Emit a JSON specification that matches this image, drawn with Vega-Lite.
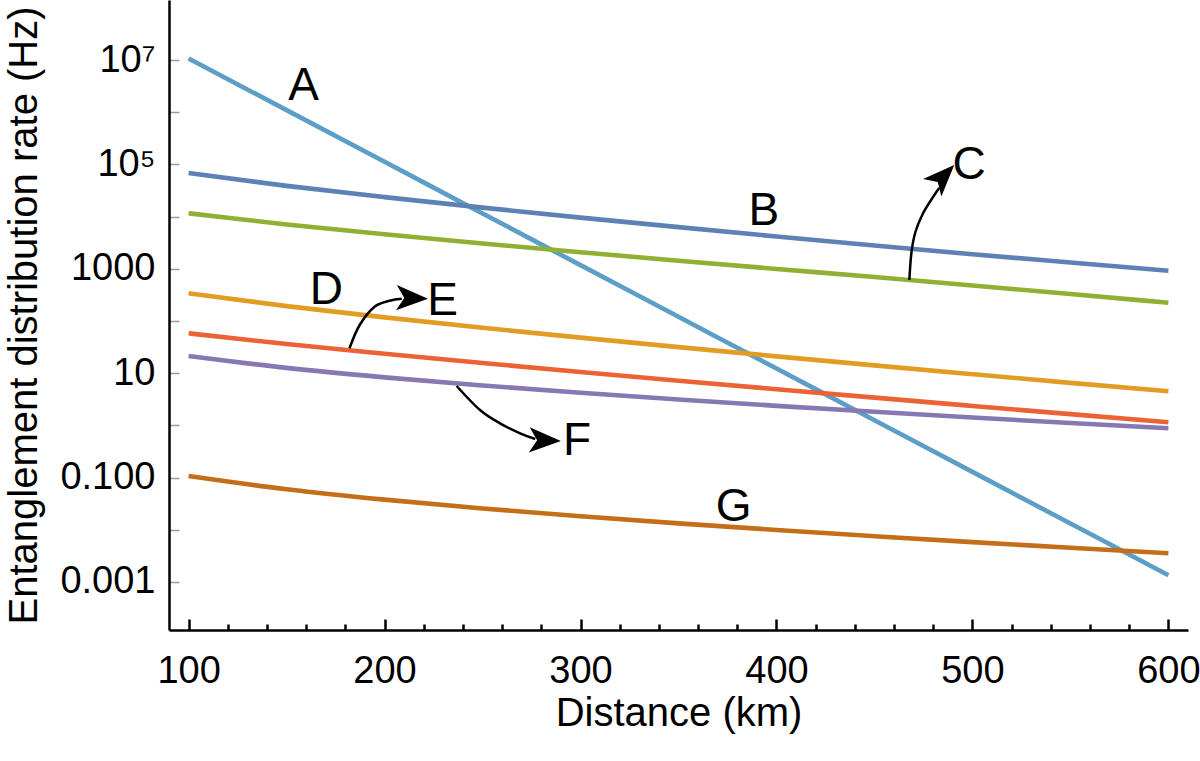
{
  "$schema": "https://vega.github.io/schema/vega-lite/v6.json",
  "width": 1019,
  "height": 630,
  "autosize": {"type": "none"},
  "padding": {"left": 169, "top": 0, "right": 12, "bottom": 131},
  "background": "white",
  "config": {"view": {"stroke": null}, "font": "Liberation Sans"},
  "datasets": {
    "curves": [
      {"series": "A", "d": 100, "rate": 10715000}, {"series": "A", "d": 150, "rate": 1096500}, {"series": "A", "d": 200, "rate": 112200}, {"series": "A", "d": 250, "rate": 11482}, {"series": "A", "d": 300, "rate": 1175}, {"series": "A", "d": 350, "rate": 120.2}, {"series": "A", "d": 400, "rate": 12.3}, {"series": "A", "d": 450, "rate": 1.259}, {"series": "A", "d": 500, "rate": 0.1288}, {"series": "A", "d": 550, "rate": 0.01318}, {"series": "A", "d": 600, "rate": 0.001349},
      {"series": "B", "d": 100, "rate": 68390}, {"series": "B", "d": 150, "rate": 38820}, {"series": "B", "d": 200, "rate": 23600}, {"series": "B", "d": 250, "rate": 14860}, {"series": "B", "d": 300, "rate": 9572}, {"series": "B", "d": 350, "rate": 6281}, {"series": "B", "d": 400, "rate": 4159}, {"series": "B", "d": 450, "rate": 2786}, {"series": "B", "d": 500, "rate": 1901}, {"series": "B", "d": 550, "rate": 1321}, {"series": "B", "d": 600, "rate": 920},
      {"series": "C", "d": 100, "rate": 11560}, {"series": "C", "d": 150, "rate": 7079}, {"series": "C", "d": 200, "rate": 4581}, {"series": "C", "d": 250, "rate": 3055}, {"series": "C", "d": 300, "rate": 2075}, {"series": "C", "d": 350, "rate": 1429}, {"series": "C", "d": 400, "rate": 993}, {"series": "C", "d": 450, "rate": 697}, {"series": "C", "d": 500, "rate": 479}, {"series": "C", "d": 550, "rate": 328}, {"series": "C", "d": 600, "rate": 224},
      {"series": "D", "d": 100, "rate": 339.6}, {"series": "D", "d": 150, "rate": 192.8}, {"series": "D", "d": 200, "rate": 117.2}, {"series": "D", "d": 250, "rate": 74.1}, {"series": "D", "d": 300, "rate": 47.97}, {"series": "D", "d": 350, "rate": 31.55}, {"series": "D", "d": 400, "rate": 21.04}, {"series": "D", "d": 450, "rate": 14.13}, {"series": "D", "d": 500, "rate": 9.57}, {"series": "D", "d": 550, "rate": 6.52}, {"series": "D", "d": 600, "rate": 4.51},
      {"series": "E", "d": 100, "rate": 58.1}, {"series": "E", "d": 150, "rate": 36.2}, {"series": "E", "d": 200, "rate": 23.6}, {"series": "E", "d": 250, "rate": 15.65}, {"series": "E", "d": 300, "rate": 10.54}, {"series": "E", "d": 350, "rate": 7.19}, {"series": "E", "d": 400, "rate": 4.93}, {"series": "E", "d": 450, "rate": 3.4}, {"series": "E", "d": 500, "rate": 2.36}, {"series": "E", "d": 550, "rate": 1.643}, {"series": "E", "d": 600, "rate": 1.146},
      {"series": "F", "d": 100, "rate": 21.38}, {"series": "F", "d": 150, "rate": 12.65}, {"series": "F", "d": 200, "rate": 8.33}, {"series": "F", "d": 250, "rate": 5.81}, {"series": "F", "d": 300, "rate": 4.21}, {"series": "F", "d": 350, "rate": 3.13}, {"series": "F", "d": 400, "rate": 2.37}, {"series": "F", "d": 450, "rate": 1.82}, {"series": "F", "d": 500, "rate": 1.416}, {"series": "F", "d": 550, "rate": 1.112}, {"series": "F", "d": 600, "rate": 0.879},
      {"series": "G", "d": 100, "rate": 0.1074}, {"series": "G", "d": 150, "rate": 0.0598}, {"series": "G", "d": 200, "rate": 0.0378}, {"series": "G", "d": 250, "rate": 0.02563}, {"series": "G", "d": 300, "rate": 0.01817}, {"series": "G", "d": 350, "rate": 0.01327}, {"series": "G", "d": 400, "rate": 0.00991}, {"series": "G", "d": 450, "rate": 0.00754}, {"series": "G", "d": 500, "rate": 0.0058}, {"series": "G", "d": 550, "rate": 0.00452}, {"series": "G", "d": 600, "rate": 0.00355}
    ],
    "labels": [
      {"label": "A", "d": 158.7, "rate": 3620000},
      {"label": "B", "d": 393.6, "rate": 14420},
      {"label": "C", "d": 498.3, "rate": 112700},
      {"label": "D", "d": 170.3, "rate": 454},
      {"label": "E", "d": 229.6, "rate": 272},
      {"label": "F", "d": 298.2, "rate": 0.566},
      {"label": "G", "d": 378.1, "rate": 0.0313}
    ],
    "arrows": [
      {"arrow": "C", "i": 1, "d": 467.8, "rate": 609},
      {"arrow": "C", "i": 2, "d": 468.9, "rate": 2099},
      {"arrow": "C", "i": 3, "d": 470.9, "rate": 5070},
      {"arrow": "C", "i": 4, "d": 474.6, "rate": 11220},
      {"arrow": "C", "i": 5, "d": 478.9, "rate": 20800},
      {"arrow": "C", "i": 6, "d": 483.0, "rate": 35300},
      {"arrow": "E", "i": 1, "d": 182.1, "rate": 30.0},
      {"arrow": "E", "i": 2, "d": 187.3, "rate": 83.8},
      {"arrow": "E", "i": 3, "d": 194.9, "rate": 188},
      {"arrow": "E", "i": 4, "d": 202.6, "rate": 245},
      {"arrow": "E", "i": 5, "d": 208.8, "rate": 266},
      {"arrow": "F", "i": 1, "d": 236.8, "rate": 5.69},
      {"arrow": "F", "i": 2, "d": 248.7, "rate": 1.97},
      {"arrow": "F", "i": 3, "d": 258.9, "rate": 1.096},
      {"arrow": "F", "i": 4, "d": 269.2, "rate": 0.706},
      {"arrow": "F", "i": 5, "d": 276.9, "rate": 0.548}
    ],
    "heads": [
      {"arrow": "C", "d": 485.1, "rate": 58900},
      {"arrow": "E", "d": 214.1, "rate": 273.5},
      {"arrow": "F", "d": 281.9, "rate": 0.514}
    ]
  },
  "encoding": {
    "x": {
      "field": "d", "type": "quantitative",
      "scale": {"domain": [90, 610], "nice": false, "zero": false},
      "axis": {
        "values": [100, 120, 140, 160, 180, 200, 220, 240, 260, 280, 300, 320, 340, 360, 380, 400, 420, 440, 460, 480, 500, 520, 540, 560, 580, 600],
        "labelExpr": "datum.value % 100 === 0 ? datum.label : ''",
        "tickSize": {"condition": {"test": "datum.value % 100 === 0", "value": -11}, "value": -6},
        "tickColor": "black", "tickWidth": 2.5,
        "domainColor": "black", "domainWidth": 2.5,
        "labelFont": "Liberation Sans", "labelFontSize": 38, "labelColor": "black",
        "labelPadding": 33, "labelOverlap": false, "labelFlush": false,
        "grid": false,
        "title": "Distance (km)", "titleFont": "Liberation Sans", "titleFontSize": 40,
        "titleFontWeight": "normal", "titleColor": "black", "titlePadding": -2
      }
    },
    "y": {
      "field": "rate", "type": "quantitative",
      "scale": {"type": "log", "domain": [0.0001202, 141300000], "nice": false},
      "axis": {
        "values": [0.001, 0.01, 0.1, 1, 10, 100, 1000, 10000, 100000, 1000000, 10000000],
        "labelExpr": "datum.value > 5e6 ? '10⁷' : datum.value > 5e5 ? '' : datum.value > 5e4 ? '10⁵' : datum.value > 5e3 ? '' : datum.value > 500 ? '1000' : datum.value > 50 ? '' : datum.value > 5 ? '10' : datum.value > 0.5 ? '' : datum.value > 0.05 ? '0.100' : datum.value > 0.005 ? '' : '0.001'",
        "tickSize": -10, "tickColor": "#9a9a9a", "tickWidth": 1.5,
        "domainColor": "black", "domainWidth": 2.5,
        "labelFont": "Liberation Sans", "labelFontSize": 38, "labelColor": "black",
        "labelPadding": 24, "labelOverlap": false, "labelFlush": false,
        "grid": false,
        "title": "Entanglement distribution rate (Hz)", "titleFont": "Liberation Sans", "titleFontSize": 40,
        "titleFontWeight": "normal", "titleColor": "black", "titlePadding": 15
      }
    }
  },
  "layer": [
    {
      "data": {"name": "curves"},
      "mark": {"type": "line", "strokeWidth": 4.6, "interpolate": "monotone"},
      "encoding": {
        "color": {
          "field": "series", "type": "nominal", "legend": null,
          "scale": {"domain": ["A", "B", "C", "D", "E", "F", "G"], "range": ["#5D9EC7", "#5E81B5", "#8FB032", "#E19C24", "#EB6235", "#8778B3", "#C56E1A"]}
        }
      }
    },
    {
      "data": {"name": "arrows"},
      "mark": {"type": "line", "color": "black", "strokeWidth": 2.5, "interpolate": "cardinal"},
      "encoding": {
        "detail": {"field": "arrow", "type": "nominal"},
        "order": {"field": "i", "type": "quantitative"}
      }
    },
    {
      "data": {"name": "heads"},
      "transform": [{"filter": "datum.arrow === 'C'"}],
      "mark": {"type": "point", "shape": "M0,-1L0.8,1L0,0.5L-0.8,1Z", "filled": true, "color": "black", "opacity": 1, "size": 1000, "angle": 44}
    },
    {
      "data": {"name": "heads"},
      "transform": [{"filter": "datum.arrow === 'E'"}],
      "mark": {"type": "point", "shape": "M0,-1L0.8,1L0,0.5L-0.8,1Z", "filled": true, "color": "black", "opacity": 1, "size": 1000, "angle": 92}
    },
    {
      "data": {"name": "heads"},
      "transform": [{"filter": "datum.arrow === 'F'"}],
      "mark": {"type": "point", "shape": "M0,-1L0.8,1L0,0.5L-0.8,1Z", "filled": true, "color": "black", "opacity": 1, "size": 1000, "angle": 92}
    },
    {
      "data": {"name": "labels"},
      "mark": {"type": "text", "font": "Liberation Sans", "fontSize": 46, "color": "black", "align": "center", "baseline": "middle", "dy": 3},
      "encoding": {"text": {"field": "label", "type": "nominal"}}
    }
  ]
}
